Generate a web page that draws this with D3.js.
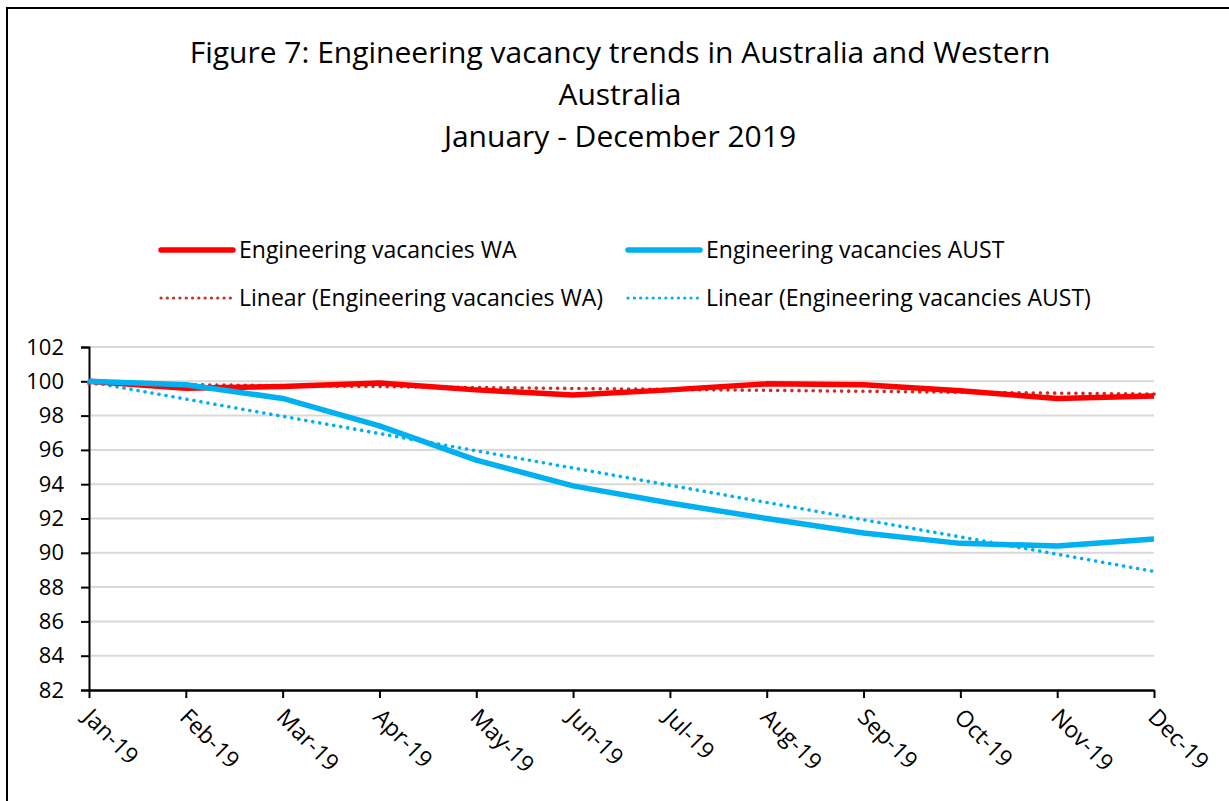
<!DOCTYPE html>
<html><head><meta charset="utf-8">
<script src="https://cdn.jsdelivr.net/npm/d3@7"></script>
<style>body{margin:0;background:#fff}svg{display:block}text{font-family:"Open Sans","Noto Sans",sans-serif;fill:#000}</style>
</head><body>
<svg id="c" width="1229" height="801"></svg>
<script>
const months = ["Jan-19","Feb-19","Mar-19","Apr-19","May-19","Jun-19","Jul-19","Aug-19","Sep-19","Oct-19","Nov-19","Dec-19"];
const waValues = [100, 99.6, 99.7, 99.9, 99.5, 99.2, 99.5, 99.85, 99.8, 99.45, 99.0, 99.15];
const austValues = [100, 99.8, 99.0, 97.4, 95.4, 93.9, 92.9, 92.0, 91.15, 90.55, 90.4, 90.8];
const yTicks = [82,84,86,88,90,92,94,96,98,100,102];
const titleLines = ["Figure 7: Engineering vacancy trends in Australia and Western","Australia","January - December 2019"];
const legendLabels = ["Engineering vacancies WA","Engineering vacancies AUST","Linear (Engineering vacancies WA)","Linear (Engineering vacancies AUST)"];

function linearFit(vals){
  const n=vals.length, xm=(n-1)/2, ym=d3.mean(vals);
  let sxy=0,sxx=0; vals.forEach((v,i)=>{sxy+=(i-xm)*(v-ym);sxx+=(i-xm)*(i-xm);});
  const b=sxy/sxx, a=ym-b*xm; return vals.map((v,i)=>a+b*i);
}
const waTrend = linearFit(waValues), austTrend = linearFit(austValues);

const FONT = '"Open Sans","Noto Sans",sans-serif';
const svg = d3.select("#c");
svg.append("rect").attr("x",7).attr("y",8).attr("width",1240).attr("height",820).attr("fill","#fff").attr("stroke","#000").attr("stroke-width",2);

const x = d3.scalePoint().domain(months).range([89,1154]);
const y = d3.scaleLinear().domain([82,102]).range([690,347]);

// title
svg.append("g").selectAll("text").data(titleLines).join("text")
  .attr("x",620).attr("y",(d,i)=>63+i*42).attr("text-anchor","middle").attr("font-size",30).text(d=>d);

// gridlines
svg.append("g").selectAll("line").data(yTicks.filter(t=>t>82)).join("line")
  .attr("x1",89).attr("x2",1154).attr("y1",d=>y(d)).attr("y2",d=>y(d)).attr("stroke","#d9d9d9").attr("stroke-width",2);

// axes
const yAxis = svg.append("g").attr("transform","translate(89,0)").call(d3.axisLeft(y).tickValues(yTicks).tickSize(8).tickPadding(17));
yAxis.select(".domain").attr("stroke-width",2);
yAxis.selectAll(".tick line").attr("stroke-width",2);
yAxis.selectAll("text").attr("font-size",22).attr("font-family",FONT);

const xAxis = svg.append("g").attr("transform","translate(0,690)").call(d3.axisBottom(x).tickSize(8).tickSizeOuter(0));
xAxis.select(".domain").attr("stroke-width",2.5);
xAxis.selectAll(".tick line").attr("stroke-width",2);
xAxis.selectAll("text").attr("font-size",23).attr("font-family",FONT)
  .attr("text-anchor","start").attr("transform","translate(-5,20) rotate(45)").attr("dy","0.35em").attr("y",0).attr("x",4);

const line = d3.line().x((d,i)=>x(months[i])).y(d=>y(d));
const DOT = "0.1 7";
const series = [
  {vals:waTrend, color:"#c9302c", w:3.6, dash:DOT},
  {vals:austTrend, color:"#00b0f0", w:3.6, dash:DOT},
  {vals:waValues, color:"#ff0000", w:5.5, dash:null},
  {vals:austValues, color:"#00b0f0", w:5.5, dash:null}
];
svg.append("g").selectAll("path").data(series).join("path")
  .attr("d",d=>line(d.vals)).attr("fill","none").attr("stroke",d=>d.color).attr("stroke-width",d=>d.w)
  .attr("stroke-linecap",d=>d.dash?"round":"butt").attr("stroke-linejoin","round").attr("stroke-dasharray",d=>d.dash);

// legend
const leg = [
  {label:legendLabels[0], color:"#ff0000", w:5.5, dash:null, x:161, y:250},
  {label:legendLabels[1], color:"#00b0f0", w:5.5, dash:null, x:628, y:250},
  {label:legendLabels[2], color:"#c9302c", w:3.2, dash:"0.1 6.2", x:161, y:298},
  {label:legendLabels[3], color:"#00b0f0", w:3.2, dash:"0.1 6.2", x:628, y:298}
];
const lg = svg.append("g").selectAll("g").data(leg).join("g").attr("transform",d=>`translate(${d.x},${d.y})`);
lg.append("line").attr("x1",0).attr("x2",72).attr("stroke",d=>d.color).attr("stroke-width",d=>d.w)
  .attr("stroke-linecap","round").attr("stroke-dasharray",d=>d.dash);
lg.append("text").attr("x",78).attr("dy","0.35em").attr("font-size",23).text(d=>d.label);
</script>
</body></html>
